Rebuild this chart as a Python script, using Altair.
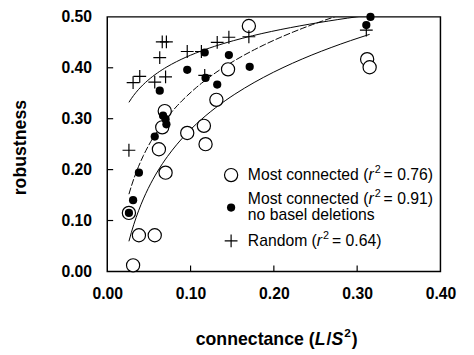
import altair as alt
import pandas as pd

# ---- data ----
mc_x = [0.031, 0.026, 0.038, 0.057, 0.062, 0.070, 0.066, 0.069, 0.096, 0.116, 0.118, 0.131, 0.145, 0.170, 0.312, 0.315]
mc_y = [0.012, 0.115, 0.071, 0.071, 0.240, 0.194, 0.283, 0.315, 0.272, 0.286, 0.250, 0.337, 0.397, 0.482, 0.417, 0.401]
nb_x = [0.026, 0.031, 0.038, 0.057, 0.063, 0.067, 0.070, 0.071, 0.096, 0.117, 0.118, 0.132, 0.146, 0.171, 0.316, 0.311]
nb_y = [0.115, 0.140, 0.194, 0.265, 0.355, 0.306, 0.299, 0.289, 0.396, 0.430, 0.380, 0.367, 0.425, 0.402, 0.500, 0.484]
rnd_x = [0.026, 0.031, 0.039, 0.057, 0.070, 0.063, 0.066, 0.071, 0.096, 0.113, 0.117, 0.132, 0.146, 0.170, 0.311]
rnd_y = [0.238, 0.371, 0.383, 0.372, 0.382, 0.420, 0.451, 0.451, 0.432, 0.432, 0.385, 0.450, 0.460, 0.461, 0.474]
x_tick_values = [0.0, 0.1, 0.2, 0.3, 0.4]
y_tick_values = [0.0, 0.1, 0.2, 0.3, 0.4, 0.5]
x_inner_ticks = [0.1, 0.2, 0.3]
y_inner_ticks = [0.1, 0.2, 0.3, 0.4]

FONT = "Liberation Sans"
W, H = 339, 259

mc = pd.DataFrame({"x": mc_x, "y": mc_y})
nb = pd.DataFrame({"x": nb_x, "y": nb_y})
rnd = pd.DataFrame({"x": rnd_x, "y": rnd_y})

xs = alt.Scale(domain=[0, 0.4], nice=False, zero=False)
ys = alt.Scale(domain=[0, 0.5], nice=False, zero=False)

xaxis = alt.Axis(values=x_tick_values, format=".2f", title=None, domain=False, ticks=False,
                 grid=False, labelFont=FONT, labelFontSize=16, labelFontWeight="bold",
                 labelColor="black", labelPadding=15, labelFlush=False)
yaxis = alt.Axis(values=y_tick_values, format=".2f", title=None, domain=False, ticks=False,
                 grid=False, labelFont=FONT, labelFontSize=16, labelFontWeight="bold",
                 labelColor="black", labelPadding=16, labelFlush=False)

X = alt.X("x:Q", scale=xs, axis=xaxis)
Y = alt.Y("y:Q", scale=ys, axis=yaxis)

CROSS = "M-1,0L1,0M0,-1L0,1"

fit_mc = alt.Chart(mc).transform_regression("x", "y", method="log").mark_line(
    color="black", strokeWidth=1, clip=True).encode(x=X, y=Y)
fit_nb = alt.Chart(nb).transform_regression("x", "y", method="log").mark_line(
    color="black", strokeWidth=1, strokeDash=[7, 2], clip=True).encode(x=X, y=Y)
fit_rnd = alt.Chart(rnd).transform_regression("x", "y", method="log").mark_line(
    color="black", strokeWidth=1, clip=True).encode(x=X, y=Y)

pts_mc = alt.Chart(mc).mark_point(shape="circle", filled=True, fill="white", stroke="black",
                                  strokeWidth=1.2, size=180, opacity=1).encode(x=X, y=Y)
pts_nb = alt.Chart(nb).mark_point(shape="circle", filled=True, color="black", size=70,
                                  opacity=1).encode(x=X, y=Y)
pts_rnd = alt.Chart(rnd).mark_point(shape=CROSS, filled=False, stroke="black", strokeWidth=1.2,
                                    size=170, opacity=1).encode(x=X, y=Y)

xt = alt.Chart(pd.DataFrame({"x": x_inner_ticks})).mark_rule(color="black", strokeWidth=1.2).encode(
    x=X, y=alt.value(H), y2=alt.value(H - 6))
yt = alt.Chart(pd.DataFrame({"y": y_inner_ticks})).mark_rule(color="black", strokeWidth=1.2).encode(
    y=Y, x=alt.value(0), x2=alt.value(6))

# ---- text helpers (Arial / Liberation Sans advance widths, per 1000 em) ----
REG = {"M": 833, "o": 556, "s": 500, "t": 278, " ": 278, "c": 500, "n": 556, "e": 556, "d": 556,
       "(": 333, ")": 333, "r": 333, "=": 584, ".": 278, "R": 722, "a": 556, "m": 833,
       "b": 556, "l": 222, "i": 222}
BOLD = {"c": 556, "o": 611, "n": 611, "e": 556, "t": 333, "a": 556, " ": 278, "(": 333, ")": 333,
        "L": 611, "/": 278, "S": 667, "r": 389, "b": 611, "u": 611, "s": 556}

one = pd.DataFrame({"k": [0]})


def text_run(parts, x0, y, size, bold):
    table = BOLD if bold else REG
    layers = []
    x = x0
    for txt, style in parts:
        fs = size if style != "sup" else round(size * 0.66)
        dy = 0 if style != "sup" else -round(size * 0.42)
        w = sum(table.get(ch, 556) for ch in txt) * fs / 1000.0
        if style == "it":
            w += 1
        if style == "sup":
            w += 3 if not bold else 1
        mk = alt.Chart(one).mark_text(
            font=FONT, fontSize=fs, fontWeight="bold" if bold else "normal",
            fontStyle="italic" if style == "it" else "normal",
            align="left", baseline="alphabetic", color="black"
        ).encode(x=alt.value(x), y=alt.value(y + dy), text=alt.value(txt))
        layers.append(mk)
        x += w
    return layers


LEG_X = 143
LS = 16
texts = []
texts += text_run([("Most connected (", "n"), ("r", "it"), ("2", "sup"), ("= 0.76)", "n")], LEG_X, 166, LS, False)
texts += text_run([("Most connected (", "n"), ("r", "it"), ("2", "sup"), ("= 0.91)", "n")], LEG_X, 190, LS, False)
texts += text_run([("no basel deletions", "n")], LEG_X, 207, LS, False)
texts += text_run([("Random (", "n"), ("r", "it"), ("2", "sup"), ("= 0.64)", "n")], LEG_X, 233, LS, False)
texts += text_run([("connectance (", "n"), ("L", "it"), ("/", "n"), ("S", "it"), ("2", "sup"), (")", "n")],
                  90, 334, 18, True)

ytitle = alt.Chart(one).mark_text(font=FONT, fontSize=18, fontWeight="bold", angle=270,
                                  align="center", baseline="middle", color="black").encode(
    x=alt.value(-88), y=alt.value(133), text=alt.value("robustness"))

leg_c = alt.Chart(one).mark_point(shape="circle", filled=True, fill="white", stroke="black",
                                  strokeWidth=1.2, size=180, opacity=1).encode(
    x=alt.value(126), y=alt.value(161))
leg_d = alt.Chart(one).mark_point(shape="circle", filled=True, color="black", size=70, opacity=1).encode(
    x=alt.value(126), y=alt.value(194))
leg_p = alt.Chart(one).mark_point(shape=CROSS, filled=False, stroke="black", strokeWidth=1.2,
                                  size=170, opacity=1).encode(x=alt.value(126), y=alt.value(228))

chart = alt.layer(
    fit_mc, fit_nb, fit_rnd, xt, yt, pts_mc, pts_nb, pts_rnd, leg_c, leg_d, leg_p, ytitle, *texts
).properties(
    width=W, height=H,
    padding={"left": 101, "top": 6, "right": 26, "bottom": 82},
    autosize=alt.AutoSizeParams(type="none"),
    background="white",
).configure_view(stroke="black", strokeWidth=1.5)

chart.save("out.html", embed_options={"renderer": "svg", "actions": False})
